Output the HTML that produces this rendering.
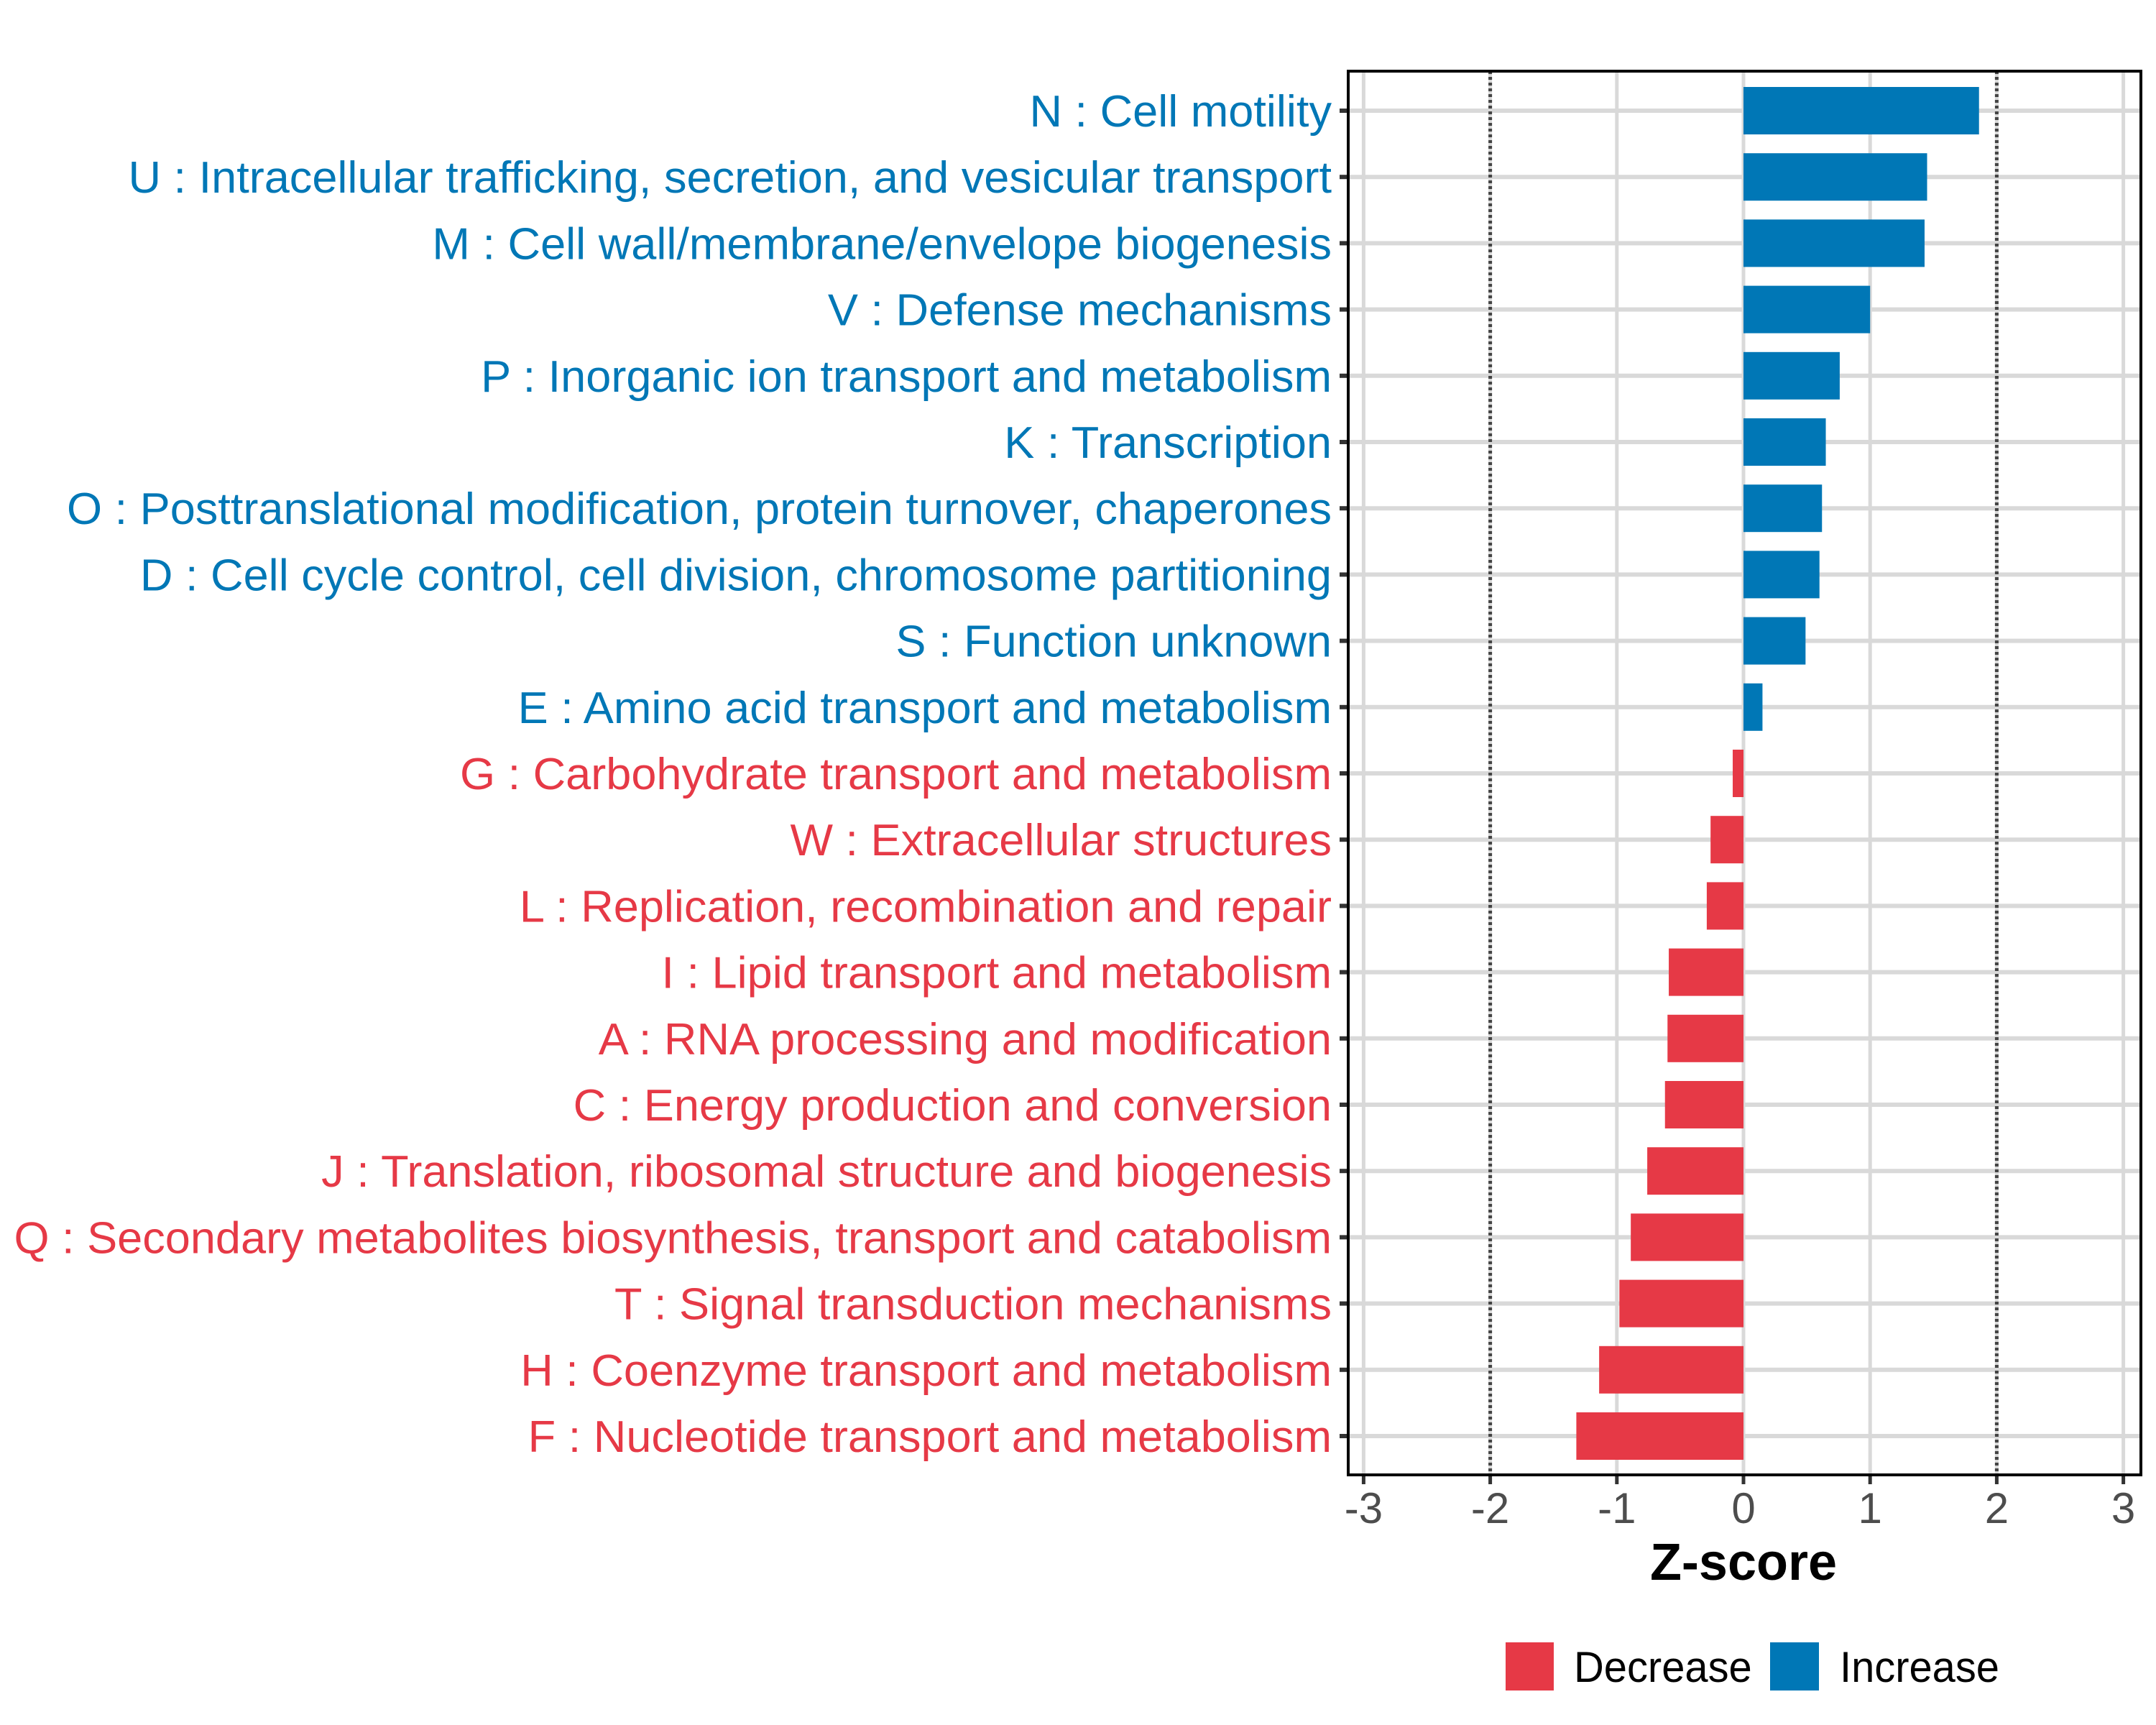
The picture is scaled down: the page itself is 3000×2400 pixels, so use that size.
<!DOCTYPE html>
<html><head><meta charset="utf-8"><style>
html,body{margin:0;padding:0;background:#fff}
svg{display:block}
text{font-family:"Liberation Sans",Arial,sans-serif}
</style></head><body>
<svg id="chart" width="3000" height="2400" viewBox="0 0 3000 2400" xmlns="http://www.w3.org/2000/svg">
<rect width="3000" height="2400" fill="#fff"/>
<g id="grid"></g>
<g id="bars"></g>
<g id="ylabels"></g>
<g id="xaxis"></g>
<rect x="1876" y="99" width="1103" height="1953" fill="none" stroke="#000" stroke-width="4"/>
<text x="2426" y="2198" text-anchor="middle" font-size="72" font-weight="bold" fill="#000">Z-score</text>
<g>
<rect x="2095" y="2285" width="67" height="67" fill="#E63946"/>
<text x="2190" y="2340" font-size="60" fill="#000" transform="translate(2190,0) scale(0.965,1) translate(-2190,0)">Decrease</text>
<rect x="2463" y="2285" width="68" height="67" fill="#0077B6"/>
<text x="2560" y="2340" font-size="60" fill="#000" transform="translate(2560,0) scale(0.965,1) translate(-2560,0)">Increase</text>
</g>
</svg>
<script>
const categories = [
"N : Cell motility",
"U : Intracellular trafficking, secretion, and vesicular transport",
"M : Cell wall/membrane/envelope biogenesis",
"V : Defense mechanisms",
"P : Inorganic ion transport and metabolism",
"K : Transcription",
"O : Posttranslational modification, protein turnover, chaperones",
"D : Cell cycle control, cell division, chromosome partitioning",
"S : Function unknown",
"E : Amino acid transport and metabolism",
"G : Carbohydrate transport and metabolism",
"W : Extracellular structures",
"L : Replication, recombination and repair",
"I : Lipid transport and metabolism",
"A : RNA processing and modification",
"C : Energy production and conversion",
"J : Translation, ribosomal structure and biogenesis",
"Q : Secondary metabolites biosynthesis, transport and catabolism",
"T : Signal transduction mechanisms",
"H : Coenzyme transport and metabolism",
"F : Nucleotide transport and metabolism"];
const zscores = [1.86,1.45,1.43,1.00,0.76,0.65,0.62,0.60,0.49,0.15,-0.085,-0.26,-0.29,-0.59,-0.60,-0.62,-0.76,-0.89,-0.98,-1.14,-1.32];
const xTicks = [-3,-2,-1,0,1,2,3];
const xTickLabels = ["-3","-2","-1","0","1","2","3"];
const refLines = [-2,2];

const NS="http://www.w3.org/2000/svg";
const RED="#E63946", BLUE="#0077B6";
const X0=2426, UNIT=176.2, PT=99, PB=2052, PL=1876, PR=2979;
const xScale=v=>X0+v*UNIT;
const yScale=i=>154+i*92.2;
function mk(tag,attrs,parent){const e=document.createElementNS(NS,tag);for(const k in attrs)e.setAttribute(k,attrs[k]);parent.appendChild(e);return e;}
const grid=document.getElementById('grid'),bars=document.getElementById('bars'),yl=document.getElementById('ylabels'),xa=document.getElementById('xaxis');

categories.forEach((c,i)=>{
  const g=mk('line',{x1:PL,x2:PR,y1:yScale(i),y2:yScale(i),stroke:'#d9d9d9','stroke-width':6},grid);
  
  
});
xTicks.forEach(t=>{
  const g=mk('line',{x1:xScale(t),x2:xScale(t),y1:PT,y2:PB,stroke:'#d9d9d9','stroke-width':5},grid);
  
  
});
refLines.forEach(t=>{
  const g=mk('line',{x1:xScale(t),x2:xScale(t),y1:PT,y2:PB,stroke:'#444','stroke-width':5,'stroke-dasharray':'4 4'},grid);
  
  
});
const H=66;
zscores.forEach((v,i)=>{
  const x1=Math.min(xScale(0),xScale(v)),w=Math.abs(xScale(v)-xScale(0));
  const r=mk('rect',{x:x1,y:yScale(i)-H/2,width:w,height:H,fill:v<0?RED:BLUE},bars);
  
  
});
const labels=[];
categories.forEach((c,i)=>{
  const t=mk('line',{x1:PL-12,x2:PL,y1:yScale(i),y2:yScale(i),stroke:'#333','stroke-width':6},yl);
  
  
  const tx=mk('text',{x:0,y:0,'font-size':62,fill:zscores[i]<0?RED:BLUE,'text-anchor':'end'},yl);
  tx.textContent=c;
  
  
  labels.push([tx,i]);
});
let qw=labels[17][0].getComputedTextLength();
const f=qw>0?1834/qw:0.85;
labels.forEach(([tx,i])=>tx.setAttribute('transform','translate(1853,'+(yScale(i)+22)+') scale('+f+',1)'));
xTicks.forEach((t,k)=>{
  const l=mk('line',{x1:xScale(t),x2:xScale(t),y1:PB,y2:PB+13,stroke:'#333','stroke-width':5},xa);
  
  
  const tx=mk('text',{x:xScale(t),y:2119,'font-size':60,fill:'#4d4d4d','text-anchor':'middle'},xa);
  tx.textContent=xTickLabels[k];
  
  
});
</script>
</body></html>
